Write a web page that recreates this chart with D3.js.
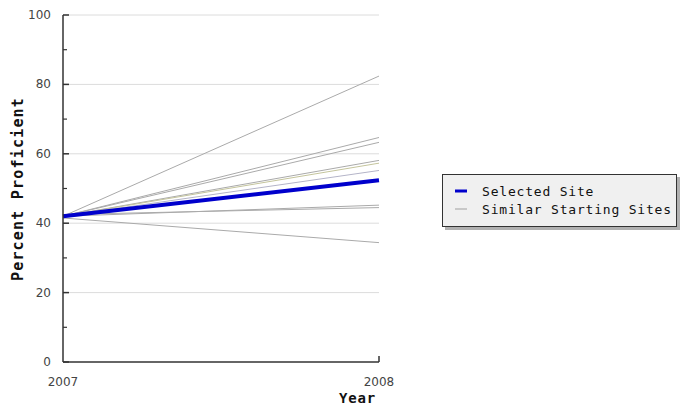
<!DOCTYPE html>
<html><head><meta charset="utf-8">
<script src="https://cdn.jsdelivr.net/npm/d3@7"></script>
<style>body{margin:0;background:#fff}svg{display:block}</style>
</head><body>
<svg id="c" width="681" height="405"></svg>
<script>
const years = [2007, 2008];
const yTicks = [0, 20, 40, 60, 80, 100];
const yMinorTicks = [10, 30, 50, 70, 90];
const selectedSite = [42, 52.4];
const similarStarts = [42, 42, 42, 42, 42, 42, 42, 42.5, 41.5];
const similarEnds   = [82.4, 64.7, 63.3, 58.1, 57.3, 55.2, 45.2, 44.5, 34.4];
const similarColors = ["#aaaaaa","#aaaaaa","#aaaaaa","#aaaaaa","#c4c49c","#b4b4c8","#aaaaaa","#aaaaaa","#aaaaaa"];
const legendLabels = ["Selected Site", "Similar Starting Sites"];
const legendColors = ["#0000cc", "#c8c8c8"];

const svg = d3.select("#c");
const x = d3.scaleLinear().domain([2007, 2008]).range([63, 379]);
const y = d3.scaleLinear().domain([0, 100]).range([362, 15]);

// gridlines
svg.append("g").selectAll("line").data(yTicks.filter(d => d > 0)).join("line")
  .attr("x1", x(2007)).attr("x2", x(2008))
  .attr("y1", d => y(d)).attr("y2", d => y(d))
  .attr("stroke", "#dcdcdc").attr("stroke-width", 1);

// similar lines
const line = d3.line().x((d, i) => x(years[i])).y(d => y(d));
const sims = similarEnds.map((e, i) => [similarStarts[i], e]);
svg.append("g").selectAll("path").data(sims).join("path")
  .attr("d", d => line(d)).attr("fill", "none")
  .attr("stroke", (d, i) => similarColors[i]).attr("stroke-width", 1);

// selected
svg.append("path").attr("d", line(selectedSite)).attr("fill", "none")
  .attr("stroke", "#0000cc").attr("stroke-width", 4);

// axes
const axCol = "#333";
svg.append("line").attr("x1", x(2007)).attr("x2", x(2007)).attr("y1", y(100)).attr("y2", y(0))
  .attr("stroke", axCol).attr("stroke-width", 1.5);
svg.append("line").attr("x1", x(2007)).attr("x2", x(2008)).attr("y1", y(0)).attr("y2", y(0))
  .attr("stroke", axCol).attr("stroke-width", 1.5);
svg.append("g").selectAll("line").data(yTicks).join("line")
  .attr("x1", x(2007)).attr("x2", x(2007) + 6).attr("y1", d => y(d)).attr("y2", d => y(d))
  .attr("stroke", axCol).attr("stroke-width", 1.5);
svg.append("g").selectAll("line").data(yMinorTicks).join("line")
  .attr("x1", x(2007)).attr("x2", x(2007) + 4).attr("y1", d => y(d)).attr("y2", d => y(d))
  .attr("stroke", axCol).attr("stroke-width", 1.2);
svg.append("line").attr("x1", x(2008)).attr("x2", x(2008)).attr("y1", y(0)).attr("y2", y(0) - 6)
  .attr("stroke", axCol).attr("stroke-width", 1.5);

// tick labels
svg.append("g").selectAll("text").data(yTicks).join("text")
  .attr("x", 51).attr("y", d => y(d) + 4).attr("text-anchor", "end")
  .attr("font-family", "DejaVu Sans, Verdana, sans-serif").attr("font-size", 12)
  .attr("fill", "#444").text(d => d);
svg.append("g").selectAll("text").data(years).join("text")
  .attr("x", d => x(d)).attr("y", 386).attr("text-anchor", "middle")
  .attr("font-family", "DejaVu Sans, Verdana, sans-serif").attr("font-size", 12)
  .attr("fill", "#444").text(d => d);

// axis titles
svg.append("text").attr("transform", "translate(23,189) rotate(-90)")
  .attr("text-anchor", "middle").attr("font-family", "DejaVu Sans Mono, monospace")
  .attr("font-weight", "bold").attr("font-size", 15).attr("letter-spacing", 1.2)
  .attr("fill", "#111").text("Percent Proficient");
svg.append("text").attr("x", 376).attr("y", 403).attr("text-anchor", "end")
  .attr("font-family", "DejaVu Sans Mono, monospace").attr("letter-spacing", 0.8)
  .attr("font-weight", "bold").attr("font-size", 14).attr("fill", "#111").text("Year");

// legend
const lg = svg.append("g");
lg.append("rect").attr("x", 445).attr("y", 177).attr("width", 235).attr("height", 53).attr("fill", "#b0b0b0");
lg.append("rect").attr("x", 442.5).attr("y", 174.5).attr("width", 234).attr("height", 52)
  .attr("fill", "#f0f0f0").attr("stroke", "#333").attr("stroke-width", 1);
legendLabels.forEach((t, i) => {
  const yy = 191 + i * 18;
  lg.append("line").attr("x1", 455).attr("x2", 467).attr("y1", yy).attr("y2", yy)
    .attr("stroke", legendColors[i]).attr("stroke-width", i === 0 ? 3 : 2);
  lg.append("text").attr("x", 482).attr("y", yy + 5)
    .attr("font-family", "DejaVu Sans Mono, monospace").attr("font-size", 13)
    .attr("letter-spacing", 0.8).attr("fill", "#111").text(t);
});
</script>
</body></html>
